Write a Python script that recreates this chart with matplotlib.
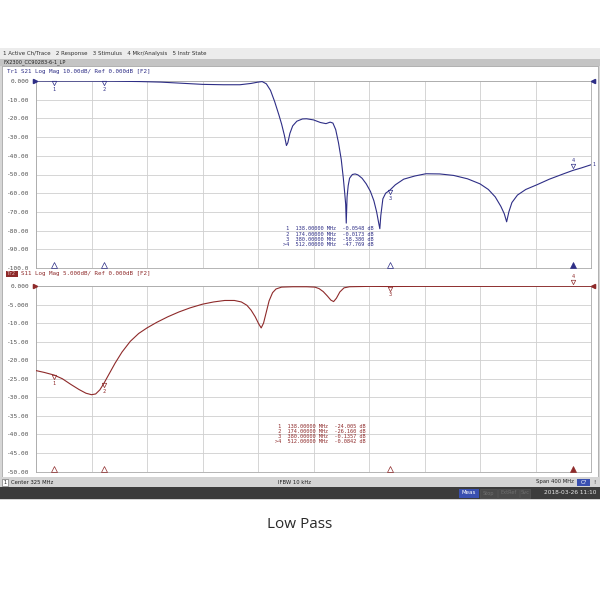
import numpy as np
import matplotlib.pyplot as plt
from matplotlib.patches import Rectangle
from matplotlib.transforms import offset_copy

# S21 trace (MHz, dB)
s21_freq = [125, 140, 160, 180, 200, 215, 230, 245, 260, 272, 280, 285, 288, 291, 294,
            297, 300, 302, 304, 305.5, 306.5, 308, 310, 313, 317, 320, 325, 330, 334,
            337, 339, 341, 343, 345, 346.5, 347.5, 348.2, 348.6, 349.2, 350, 351, 353,
            355, 357, 360, 363, 366, 368.5, 370.5, 372, 372.8, 373.5, 375, 377, 380,
            384, 390, 398, 406, 416, 426, 436, 445, 451, 456, 460, 462.5, 464.2, 465.8,
            468, 472, 478, 486, 495, 505, 512, 518, 525]
s21_db = [0, -0.05, -0.05, -0.1, -0.3, -0.6, -1.2, -1.8, -2.0, -2.0, -1.3, -0.6, -0.3,
          -1.5, -5, -11, -18, -23, -29, -34.5, -33, -28, -24, -21.5, -20.3, -20.2, -20.8,
          -22.2, -22.8, -22, -22.5, -26, -33, -42, -52, -60, -66, -76, -62, -56, -52,
          -50, -49.7, -50.2, -52, -55, -59, -64, -70, -76, -79, -72, -63, -60, -58.4,
          -55.5, -52.5, -50.8, -49.6, -49.7, -50.5, -52.3, -55, -58, -62, -67, -71,
          -75.3, -70, -65, -61, -58, -55.5, -52.5, -49.7, -47.8, -46.5, -44.8]

# S11 trace (MHz, dB)
s11_freq = [125, 131, 138, 144, 150, 156, 161, 165, 168, 171, 174, 178, 182, 187, 193,
            199, 205, 212, 220, 228, 236, 245, 253, 261, 268, 273, 277, 280, 283, 285.5,
            287.3, 289, 291, 293, 295.5, 298, 302, 310, 320, 326, 329, 332, 335, 337.5,
            339.5, 341.5, 344, 347, 351, 358, 365, 380, 400, 450, 512, 525]
s11_db = [-22.8, -23.3, -24.0, -25.0, -26.5, -27.9, -28.9, -29.3, -29.1, -28.0, -26.2,
          -23.5, -20.8, -17.8, -14.9, -12.8, -11.3, -9.8, -8.3, -7.0, -5.9, -4.9, -4.3,
          -3.9, -3.9, -4.3, -5.2, -6.5, -8.3, -10.2, -11.3, -10.0, -7.0, -4.0, -1.8,
          -0.8, -0.3, -0.2, -0.2, -0.3, -0.7, -1.5, -2.7, -3.8, -4.2, -3.3, -1.6, -0.5,
          -0.2, -0.15, -0.1, -0.14, -0.1, -0.1, -0.08, -0.08]

# markers
mkr_freq = [138, 174, 380, 512]
mkr_s21 = [-0.0548, -0.0173, -58.380, -47.769]
mkr_s11 = [-24.005, -26.160, -0.1357, -0.0842]
mkr_s11_txt = ['-24.005', '-26.160', '-0.1357', '-0.0842']
mkr_s21_txt = ['-0.0548', '-0.0173', '-58.380', '-47.769']

BLUE = '#2e2e86'
RED = '#8e2a2a'
MONO = 'DejaVu Sans Mono'
W = H = 600


def box(x0, y0, x1, y1, color, ec='none', lw=0.0):
    fig.patches.append(Rectangle((x0 / W, 1 - y1 / H), (x1 - x0) / W, (y1 - y0) / H,
                                 transform=fig.transFigure, fc=color, ec=ec, lw=lw,
                                 zorder=-10))


def txt(x, y, s, size=4.2, color='#202020', ha='left', family='DejaVu Sans', **kw):
    fig.text(x / W, 1 - y / H, s, fontsize=size, color=color, ha=ha, va='center',
             family=family, **kw)


def fmt(v):
    a = abs(v)
    if a < 10:
        return f'{v:.3f}'
    if a < 100:
        return f'{v:.2f}'
    return f'{v:.1f}'


fig = plt.figure(figsize=(6, 6), dpi=100)
fig.patch.set_facecolor('white')

# window chrome
box(0, 48, 600, 500, '#d6d6d6')
box(0, 48, 600, 59, '#ececec')
txt(3, 53.5, '1 Active Ch/Trace   2 Response   3 Stimulus   4 Mkr/Analysis   5 Instr State',
    size=4.0, color='#303030')
box(0, 59, 600, 66, '#c4c4c4')
txt(3, 62.5, 'FX2300_CC90283-6-1_LP', size=3.6, color='#202020')
box(2, 66, 598, 477, 'white', ec='#9a9a9a', lw=0.5)
txt(7, 72, 'Tr1 S21 Log Mag 10.00dB/ Ref 0.000dB [F2]', color=BLUE, family=MONO)
box(6, 270.5, 18, 276.5, RED)
txt(7, 273.5, 'Tr2', size=3.6, color='#e0c0c0', family=MONO)
txt(21, 273.5, 'S11 Log Mag 5.000dB/ Ref 0.000dB [F2]', color=RED, family=MONO)

# status bar
box(0, 477, 600, 487, '#d4d4d4')
box(2, 478.5, 8, 485.5, 'white', ec='#606060', lw=0.4)
txt(5, 482, '1', size=3.6, ha='center')
txt(11, 482, 'Center 325 MHz', size=3.8)
txt(278, 482, 'IFBW 10 kHz', size=3.8)
txt(574, 482, 'Span 400 MHz', size=3.8, ha='right')
box(577, 478.5, 590, 485.5, '#3a50b0')
txt(583.5, 482, 'C?', size=3.8, color='white', ha='center')
txt(593, 482, '!', size=3.8)
box(0, 487, 600, 499, '#3c3c3c')
box(459, 488.5, 479, 497.5, '#3a50b0')
txt(469, 493, 'Meas', size=4.0, color='white', ha='center')
for x0, x1, s in [(480, 497, 'Stop'), (498, 519, 'ExtRef'), (520, 530, 'Svc')]:
    box(x0, 488.5, x1, 497.5, '#4a4a4a', ec='#5a5a5a', lw=0.4)
    txt((x0 + x1) / 2, 493, s, size=3.6, color='#707070', ha='center')
txt(597, 493, '2018-03-26 11:10', size=4.2, color='#e8e8e8', ha='right')

txt(300, 525, 'Low Pass', size=11, color='#2a2a2a', ha='center', family='Open Sans')

ax1 = fig.add_axes([36 / W, 1 - 268 / H, 555 / W, 187 / H])
ax2 = fig.add_axes([36 / W, 1 - 471.5 / H, 555 / W, 185.5 / H])

panels = [
    (ax1, s21_freq, s21_db, BLUE, -100, 10, mkr_s21, mkr_s21_txt, (283, 229)),
    (ax2, s11_freq, s11_db, RED, -50, 5, mkr_s11, mkr_s11_txt, (275, 426)),
]
for ax, f, d, col, ymin, step, mv, mt, (tx, ty) in panels:
    ax.set_facecolor('white')
    ax.set_xlim(125, 525)
    ax.set_ylim(ymin, 0)
    ax.set_xticks(np.arange(125, 526, 40))
    yt = np.arange(ymin, 0.1, step)
    ax.set_yticks(yt)
    ax.set_yticklabels([fmt(v) if v != 0 else '0.000' for v in yt])
    ax.tick_params(length=0, labelbottom=False, labelsize=4.4, labelcolor='#505050', pad=5)
    for lab in ax.get_yticklabels():
        lab.set_family(MONO)
    ax.grid(True, color='#cfcfcf', lw=0.6)
    for sp in ax.spines.values():
        sp.set_color('#a8a8a8')
        sp.set_linewidth(0.6)
    ax.plot(f, d, color=col, lw=0.8, zorder=3)

    # reference arrows
    ax.plot([125], [0], marker='>', color=col, ms=3, clip_on=False, zorder=5,
            transform=offset_copy(ax.transData, fig, x=-1.5, y=0, units='dots'))
    ax.plot([525], [0], marker='<', color=col, ms=3, clip_on=False, zorder=5,
            transform=offset_copy(ax.transData, fig, x=1.5, y=0, units='dots'))

    bot = offset_copy(ax.get_xaxis_transform(), fig, x=0, y=3, units='dots')
    for i, (mf, v) in enumerate(zip(mkr_freq, mv)):
        active = i == 3
        ax.plot([mf], [0], marker='^', ms=4, mec=col, mfc=col if active else 'none',
                mew=0.5, clip_on=False, transform=bot, zorder=5)
        if active:
            tr_s = offset_copy(ax.transData, fig, x=0, y=4, units='dots')
            tr_n = offset_copy(ax.transData, fig, x=0, y=10, units='dots')
        else:
            tr_s = offset_copy(ax.transData, fig, x=0, y=-2, units='dots')
            tr_n = offset_copy(ax.transData, fig, x=0, y=-8, units='dots')
        ax.plot([mf], [v], marker='v', ms=3.2, mec=col, mfc='none', mew=0.5,
                transform=tr_s, clip_on=False, zorder=6)
        ax.text(mf, v, str(i + 1), transform=tr_n, fontsize=3.8, color=col,
                ha='center', va='center', family=MONO, clip_on=False, zorder=6)

    # marker readout table
    for i, (mf, s) in enumerate(zip(mkr_freq, mt)):
        pre = '>4' if i == 3 else f' {i + 1}'
        txt(tx, ty + i * 5.3, f'{pre}  {mf:.5f} MHz {s:>8} dB', size=3.8, color=col,
            family=MONO)

ax1.text(525, s21_db[-1], '1', transform=offset_copy(ax1.transData, fig, x=3, y=0,
         units='dots'), fontsize=3.6, color=BLUE, ha='center', va='center',
         family=MONO, clip_on=False)

fig.savefig('out.png', dpi=100)
